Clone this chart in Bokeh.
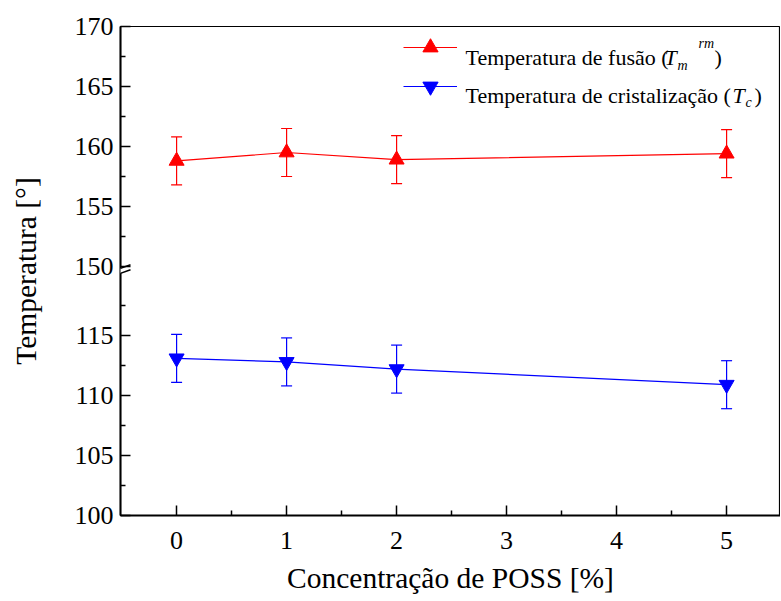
from bokeh.plotting import figure
from bokeh.models import (FixedTicker, Whisker, ColumnDataSource, Arrow, Label,
                          TeeHead, Range1d, Legend, LegendItem)
from bokeh.embed import file_html
from bokeh.resources import INLINE

# ---------------- data ----------------
conc = [0, 1, 2, 5]
t_fusao = [158.8, 159.5, 158.9, 159.4]
t_fusao_err = [2.0, 2.0, 2.0, 2.0]
t_crist = [113.1, 112.8, 112.2, 110.9]
t_crist_err = [2.0, 2.0, 2.0, 2.0]

x_ticks = [0, 1, 2, 3, 4, 5]
x_minor = [0.5, 1.5, 2.5, 3.5, 4.5]
y_ticks_low = [100, 105, 110, 115]
y_minor_low = [102.5, 107.5, 112.5, 117.5]
y_ticks_high = [150, 155, 160, 165, 170]
y_minor_high = [152.5, 157.5, 162.5, 167.5]

label_fusao = "Temperatura de fusão ("
label_crist = "Temperatura de cristalização ("
x_title = "Concentração de POSS [%]"
y_title = "Temperatura [°]"

# ---------------- broken axis mapping ----------------
LOW_TOP = 120.0
HIGH_BOTTOM = 150.0
GAP = 0.75


def fwd(v):
    return v if v <= LOW_TOP else v - HIGH_BOTTOM + LOW_TOP + GAP


FONT = "Liberation Serif"
FL, FT, FW, FH = 120, 26, 660, 489
X0 = -0.51
X1 = X0 + FW / 110.0
Y0, Y1 = 100.0, fwd(170.0)

p = figure(frame_width=FW, frame_height=FH, min_border_left=FL,
           min_border_top=FT, min_border_right=0, min_border_bottom=85,
           x_range=Range1d(X0, X1), y_range=Range1d(Y0, Y1),
           output_backend="svg", toolbar_location=None)
p.grid.visible = False
p.outline_line_color = "black"
p.outline_line_width = 1.2
p.background_fill_color = "white"
p.border_fill_color = "white"

# axes
for ax in (p.xaxis[0], p.yaxis[0]):
    ax.axis_line_width = 2
    ax.axis_line_color = "black"
    ax.major_tick_in = 10
    ax.major_tick_out = 0
    ax.minor_tick_in = 5
    ax.minor_tick_out = 0
    ax.major_tick_line_width = 1.5
    ax.minor_tick_line_width = 1.5
    ax.major_label_text_font = FONT
    ax.major_label_text_font_size = "26px"
    ax.axis_label_text_font = FONT
    ax.axis_label_text_font_size = "29.5px"
    ax.axis_label_text_font_style = "normal"
    ax.major_label_text_color = "black"
    ax.axis_label_text_color = "black"

p.xaxis.ticker = FixedTicker(ticks=x_ticks, minor_ticks=x_minor)
p.xaxis.axis_label = x_title
p.xaxis.major_label_standoff = 16
p.xaxis.axis_label_standoff = 10

ymaj = [fwd(v) for v in y_ticks_low + y_ticks_high]
ymin = [fwd(v) for v in y_minor_low + y_minor_high]
p.yaxis.ticker = FixedTicker(ticks=ymaj, minor_ticks=ymin)
p.yaxis.major_label_overrides = {fwd(v): str(v) for v in y_ticks_low + y_ticks_high}
p.yaxis.axis_label = y_title
p.yaxis.major_label_standoff = 7
p.yaxis.axis_label_standoff = 30

# ---------------- series ----------------
series = [
    (t_fusao, t_fusao_err, "#ff0000", "triangle"),
    (t_crist, t_crist_err, "#0000ff", "inverted_triangle"),
]
legend_items = []
for vals, errs, col, mk in series:
    src = ColumnDataSource(dict(
        x=conc,
        y=[fwd(v) for v in vals],
        upper=[fwd(v + e) for v, e in zip(vals, errs)],
        lower=[fwd(v - e) for v, e in zip(vals, errs)],
    ))
    w = Whisker(base="x", upper="upper", lower="lower", source=src,
                line_color=col, line_width=1.2, level="underlay",
                upper_head=TeeHead(size=11, line_color=col, line_width=1.2),
                lower_head=TeeHead(size=11, line_color=col, line_width=1.2))
    p.add_layout(w)
    lr = p.line("x", "y", source=src, line_color=col, line_width=1.2)
    sr = p.scatter("x", "y", source=src, marker=mk, size=15,
                   fill_color=col, line_color=col)
    legend_items.append(LegendItem(label="", renderers=[lr, sr]))

legend = Legend(items=legend_items, location=(283, 410), glyph_width=54,
                glyph_height=38, label_height=38, label_width=0,
                label_standoff=0, spacing=1, padding=0, margin=0,
                border_line_color=None, background_fill_alpha=0,
                label_text_font_size="1px")
p.add_layout(legend, "center")


# ---------------- legend texts (rich text pieces) ----------------
def sx(px):
    return X0 + (px - FL) / 110.0


def sy(py):
    return Y1 - (py - FT) / 12.0


def add_text(txt, px, py, size, style="normal"):
    p.add_layout(Label(x=sx(px), y=sy(py), text=txt, text_font=FONT,
                       text_font_size=size, text_font_style=style,
                       text_color="black", text_baseline="alphabetic",
                       text_align="left"))


add_text(label_fusao, 465, 57, "22px")
add_text("T", 664, 57, "22px", "italic")
add_text("m", 677, 65, "14px", "italic")
add_text("rm", 698, 43, "14px", "italic")
add_text(")", 714, 57, "22px")

add_text(label_crist, 465, 95, "22px")
add_text("T", 732, 95, "22px", "italic")
add_text("c", 745, 102, "14px", "italic")
add_text(")", 754, 95, "22px")

# ---------------- axis break marks ----------------
dx = 10 / 110.0
dy = 3.5 / 12.0
yb_hi = LOW_TOP + GAP * 0.8
yb_lo = LOW_TOP + GAP * 0.25
p.add_layout(Arrow(end=None, x_start=X0, y_start=yb_lo, x_end=X0, y_end=yb_hi,
                   line_color="white", line_width=6))
for yb in (yb_lo, yb_hi):
    p.add_layout(Arrow(end=None, x_start=X0 - dx, y_start=yb - dy,
                       x_end=X0 + dx, y_end=yb + dy,
                       line_color="black", line_width=1.5))

open("out.html", "w").write(file_html(p, INLINE))
